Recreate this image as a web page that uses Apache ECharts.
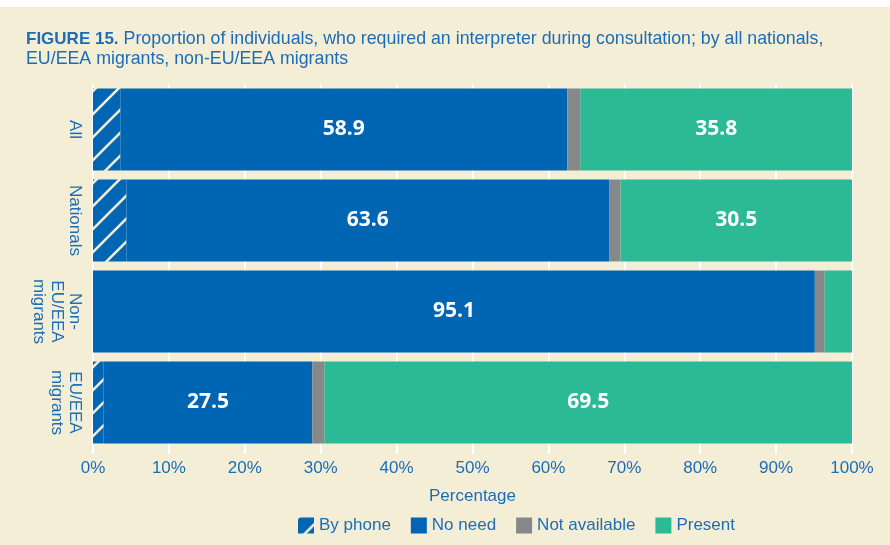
<!DOCTYPE html>
<html>
<head>
<meta charset="utf-8">
<script src="https://cdn.jsdelivr.net/npm/echarts@6/dist/echarts.min.js"></script>
<style>
html,body{margin:0;padding:0;background:#fff;}
#chart{width:890px;height:545px;}
</style>
</head>
<body>
<div id="chart"></div>
<script>
var categories = ['All', 'Nationals', 'Non-\nEU/EEA\nmigrants', 'EU/EEA\nmigrants'];
var byPhone = [3.6, 4.4, 0, 1.4];
var noNeed = [58.9, 63.6, 95.1, 27.5];
var notAvailable = [1.7, 1.5, 1.3, 1.6];
var present = [35.8, 30.5, 3.6, 69.5];
var xTicks = [0, 10, 20, 30, 40, 50, 60, 70, 80, 90, 100];

var BLUE = '#0065b3';
var TEXT = '#1a6db6';
var GRAY = '#86888a';
var GREEN = '#2cba96';
var CREAM = '#f4eed7';

function makeHatch() {
  var S = 23;
  var c = document.createElement('canvas');
  c.width = S; c.height = S;
  var g = c.getContext('2d');
  g.fillStyle = BLUE;
  g.fillRect(0, 0, S, S);
  g.strokeStyle = CREAM;
  g.lineWidth = 2.6;
  [[0, S, S, 0], [-S, S, S, -S], [0, 2 * S, 2 * S, 0]].forEach(function (l) {
    g.beginPath(); g.moveTo(l[0], l[1]); g.lineTo(l[2], l[3]); g.stroke();
  });
  return c;
}
var hatch = { image: makeHatch(), repeat: 'repeat' };

var chart = echarts.init(document.getElementById('chart'), null, { renderer: 'canvas' });

function valLabel(min) {
  return {
    show: true,
    position: 'inside',
    color: '#ffffff',
    fontFamily: 'Open Sans',
    fontWeight: 'bold',
    fontSize: 21,
    formatter: function (p) { return p.value >= min ? p.value.toFixed(1) : ''; }
  };
}

chart.setOption({
  backgroundColor: CREAM,
  animation: false,
  graphic: [{ type: 'rect', left: 0, top: 0, shape: { width: 890, height: 7 }, style: { fill: '#ffffff' }, silent: true }],
  title: {
    left: 21, top: 24,
    text: '{b|FIGURE 15.} {n|Proportion of individuals, who required an interpreter during consultation; by all nationals,}\n{n|EU/EEA migrants, non-EU/EEA migrants}',
    textStyle: {
      fontWeight: 'normal',
      rich: {
        b: { fontFamily: 'Liberation Sans', fontWeight: 'bold', fontSize: 17, color: TEXT, lineHeight: 20 },
        n: { fontFamily: 'Liberation Sans', fontWeight: 'normal', fontSize: 17.8, color: TEXT, lineHeight: 20 }
      }
    }
  },
  legend: {
    left: 293, top: 512,
    itemWidth: 16, itemHeight: 16, itemGap: 20,
    icon: 'rect',
    textStyle: { color: TEXT, fontFamily: 'Liberation Sans', fontSize: 17 },
    data: ['By phone', 'No need', 'Not available', 'Present']
  },
  grid: { left: 93, right: 38, top: 84, bottom: 97 },
  xAxis: {
    type: 'value', min: 0, max: 100, interval: 10,
    name: 'Percentage', nameLocation: 'middle', nameGap: 40,
    nameTextStyle: { color: TEXT, fontFamily: 'Liberation Sans', fontSize: 17 },
    axisLine: { show: false },
    axisTick: { show: true, length: 6, lineStyle: { color: '#ffffff', width: 2 } },
    splitLine: { show: true, lineStyle: { color: '#ffffff', width: 2 } },
    axisLabel: { color: TEXT, fontFamily: 'Liberation Sans', fontSize: 17, margin: 12,
      formatter: function (v) { return xTicks.indexOf(v) >= 0 ? v + '%' : ''; } }
  },
  yAxis: {
    type: 'category', inverse: true, data: categories,
    axisLine: { show: false }, axisTick: { show: false },
    axisLabel: { interval: 0, rotate: -90, color: TEXT, fontFamily: 'Liberation Sans', fontSize: 17, lineHeight: 18, margin: 9 }
  },
  series: [
    { name: 'By phone', type: 'bar', stack: 's', barCategoryGap: '10%', data: byPhone, itemStyle: { color: hatch } },
    { name: 'No need', type: 'bar', stack: 's', data: noNeed, itemStyle: { color: BLUE }, label: valLabel(5) },
    { name: 'Not available', type: 'bar', stack: 's', data: notAvailable, itemStyle: { color: GRAY } },
    { name: 'Present', type: 'bar', stack: 's', data: present, itemStyle: { color: GREEN }, label: valLabel(5) }
  ]
});
</script>
</body>
</html>
